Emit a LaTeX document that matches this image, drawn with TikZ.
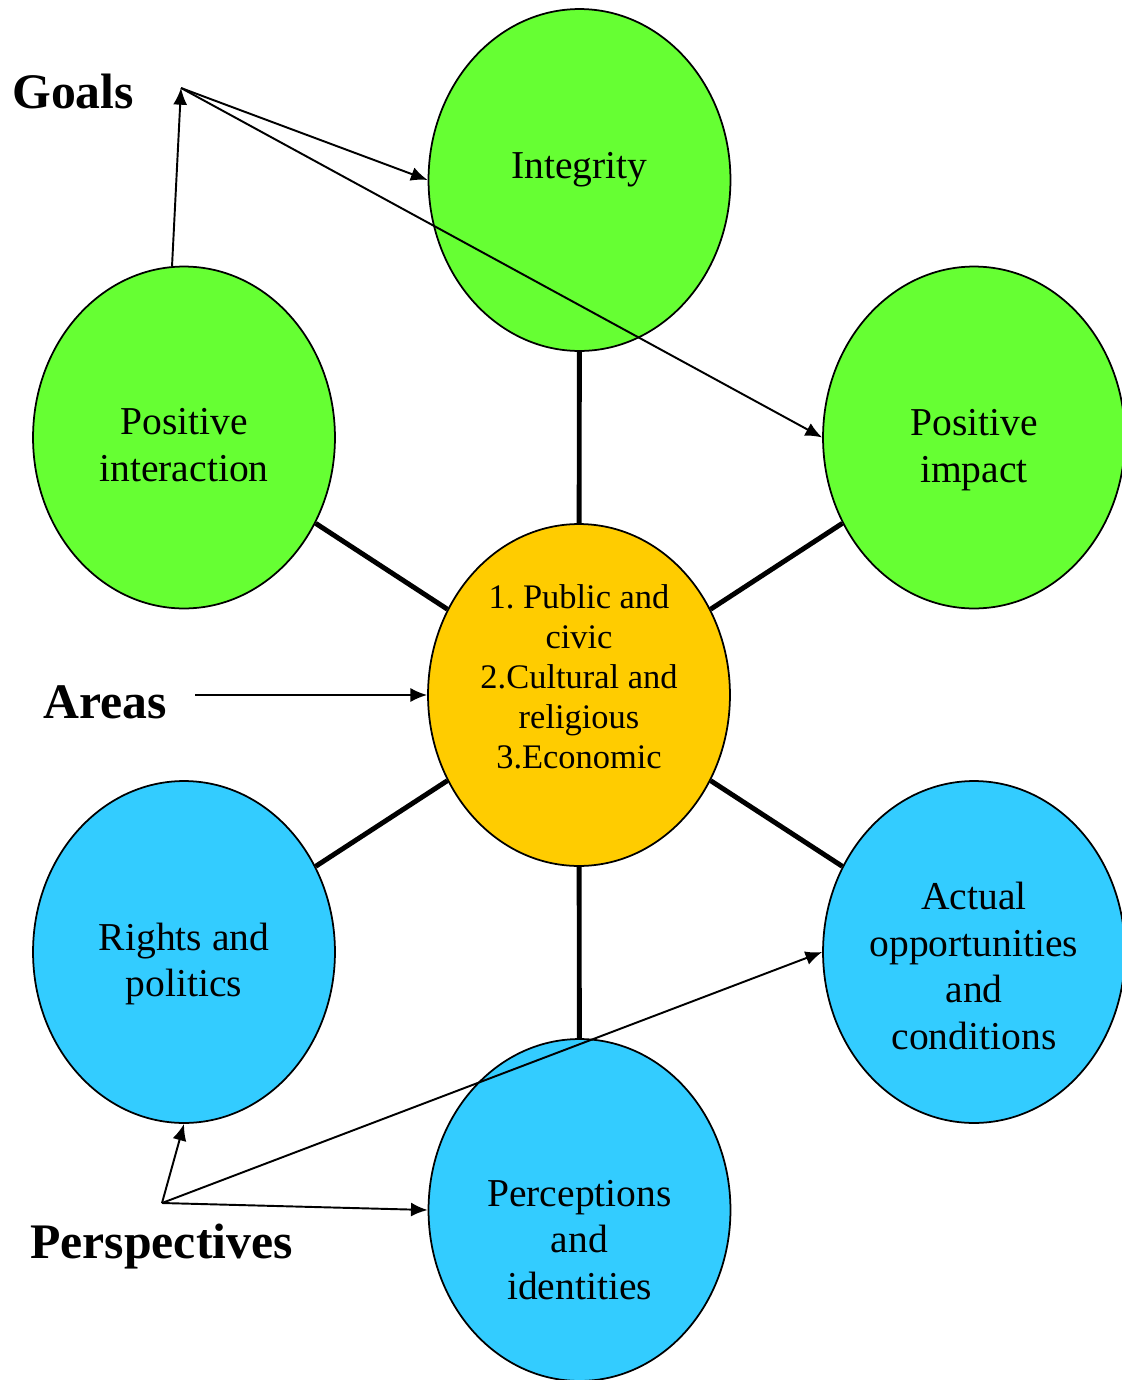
\documentclass[tikz,border=0pt]{standalone}
\usepackage{fontspec}
\setmainfont{Liberation Serif}
\usetikzlibrary{shapes.geometric, arrows.meta}
\definecolor{goalgreen}{HTML}{66FF33}
\definecolor{areaorange}{HTML}{FFCC00}
\definecolor{perspblue}{HTML}{33CCFF}

\begin{document}
\begin{tikzpicture}[x=0.02cm, y=-0.02cm,
    bubble/.style={ellipse, draw, line width=1pt, minimum width=6.04cm, minimum height=6.84cm, inner sep=0pt},
    bubbletext/.style={align=center, inner sep=0pt, font=\fontsize{22.5}{26.6}\selectfont},
    hubtext/.style={align=center, inner sep=0pt, font=\fontsize{19.6}{22.7}\selectfont},
    heading/.style={anchor=base west, inner sep=0pt, font=\fontsize{28.3}{34}\selectfont\bfseries},
    spoke/.style={line width=2.8pt},
    pointer/.style={line width=1.1pt, -{Latex[length=9.5pt, width=8pt]}}]

  \clip (0,0) rectangle (1122,1380);

  % Goals (top row)
  \node[bubble, fill=goalgreen] (integ) at (579.5,180) {};
  \node[bubble, fill=goalgreen] (pint) at (184,437.5) {};
  \node[bubble, fill=goalgreen] (pimp) at (974,437.5) {};

  % Areas in the middle
  \node[bubble, fill=areaorange] (areas) at (579,695) {};

  % Perspectives (bottom row)
  \node[bubble, fill=perspblue] (rights) at (184,952) {};
  \node[bubble, fill=perspblue] (actual) at (974,952) {};
  \node[bubble, fill=perspblue] (percep) at (579.5,1210) {};

  % spokes from the middle
  \foreach \n in {integ,pint,pimp,rights,actual,percep}
    \draw[spoke] (areas) -- (\n);

  % texts inside the bubbles
  \node[bubbletext] (integ-t) at (579.5,170) {Integrity};
  \node[bubbletext] (pint-t) at (184,445) {Positive\\interaction};
  \node[bubbletext] (pimp-t) at (974,450) {Positive\\impact};
  \node[hubtext] (areas-t) at (579,677) {1.\ Public and\\civic\\2.Cultural and\\religious\\3.Economic};
  \node[bubbletext] (rights-t) at (184,964) {Rights and\\politics};
  \node[bubbletext] (actual-t) at (974,966) {Actual\\opportunities\\and\\conditions};
  \node[bubbletext] (percep-t) at (579.5,1240) {Perceptions\\and\\identities};

  % side headings
  \node[heading] (goals) at (12,108) {Goals};
  \node[heading] (areas-lbl) at (43,718) {Areas};
  \node[heading] (persp) at (30,1258) {Perspectives};

  \coordinate (goalpt) at (181,88);
  \coordinate (areapt) at (195,695);
  \coordinate (persppt) at (162,1203);

  % pointers
  \draw[pointer] (pint.94) -- (goalpt);
  \foreach \n in {integ.west,pimp.west}
    \draw[pointer] (goalpt) -- (\n);
  \draw[pointer] (areapt) -- (areas.west);
  \foreach \n in {rights.south,percep.west,actual.west}
    \draw[pointer] (persppt) -- (\n);

\end{tikzpicture}
\end{document}
